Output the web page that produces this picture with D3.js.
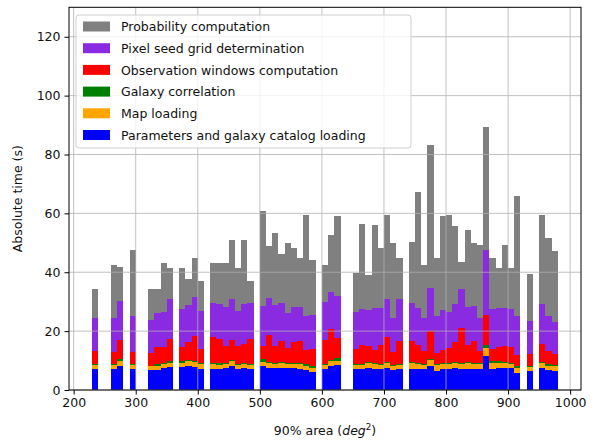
<!DOCTYPE html>
<html>
<head>
<meta charset="utf-8">
<script src="https://cdn.jsdelivr.net/npm/d3@7"></script>
<style>
  body { margin: 0; background: white; }
  svg text { font-family: "DejaVu Sans", sans-serif; }
</style>
</head>
<body>
<svg id="chart"></svg>
<script>
// left edge of each 10 deg^2 bin (empty bins left out)
const bins = [230, 260, 270, 290, 320, 330, 340, 350, 370, 380, 390, 400, 420, 430, 440, 450, 460, 470, 480,
  500, 510, 520, 530, 540, 550, 560, 570, 580, 600, 610, 620, 650, 660, 670, 680, 690, 700, 710, 720,
  740, 750, 760, 770, 780, 790, 800, 810, 820, 830, 840, 850, 860, 870, 880, 890, 900, 910, 930, 950, 960, 970];

const paramLoading = [7.1, 7.2, 8.3, 7.1, 6.7, 6.7, 7.4, 7.7, 7.7, 8.3, 7.9, 7.3, 7.2, 7.2, 7.6, 8.2, 7.3, 7.4, 7.1,
  8.0, 7.6, 7.4, 7.4, 7.4, 7.4, 7.3, 6.8, 6.2, 7.1, 8.0, 8.4, 7.1, 7.1, 7.4, 7.1, 7.1, 7.6, 6.8, 7.1,
  7.3, 7.2, 7.1, 8.3, 6.6, 7.1, 7.1, 7.4, 7.1, 7.3, 7.1, 7.1, 11.6, 7.3, 7.6, 7.4, 7.4, 5.9, 6.3, 7.4, 6.8, 6.3];
const mapLoading = [1.3, 1.2, 1.5, 1.4, 1.3, 1.4, 1.4, 1.4, 1.4, 1.4, 1.6, 1.6, 1.5, 1.3, 1.2, 1.5, 1.2, 1.4, 1.3,
  1.5, 1.5, 1.4, 1.7, 1.4, 1.4, 1.5, 1.4, 1.4, 1.4, 1.7, 1.4, 1.4, 1.4, 1.7, 1.7, 1.4, 1.5, 1.4, 1.4,
  1.8, 1.6, 1.3, 2.0, 1.8, 1.7, 1.8, 1.7, 1.7, 1.8, 1.7, 1.7, 2.6, 1.8, 1.7, 1.7, 1.4, 1.7, 1.4, 1.7, 1.5, 1.7];
const galaxyCorr = [0.5, 0.4, 0.7, 0.5, 0.3, 0.7, 0.4, 0.6, 0.6, 0.4, 0.5, 0.4, 0.5, 0.6, 0.3, 0.6, 0.4, 0.3, 0.4,
  0.9, 0.5, 0.3, 0.3, 0.3, 0.4, 0.4, 0.6, 0.5, 0.4, 0.6, 1.0, 0.4, 0.4, 0.4, 0.4, 0.4, 0.4, 0.4, 0.4,
  0.4, 0.3, 0.4, 0.3, 0.4, 0.3, 0.4, 0.4, 0.3, 0.4, 0.3, 0.3, 1.0, 0.6, 0.5, 0.5, 0.3, 0.4, 0.5, 0.4, 0.4, 0.4];
const obsWindows = [4.4, 4.2, 6.4, 4.0, 4.3, 5.9, 5.3, 7.7, 5.0, 6.1, 8.5, 4.7, 8.8, 8.2, 5.7, 6.6, 5.9, 6.6, 8.5,
  4.5, 9.2, 5.7, 7.1, 5.1, 7.1, 7.6, 4.9, 5.8, 8.0, 10.4, 6.7, 5.0, 6.5, 5.3, 4.5, 6.3, 8.5, 4.3, 7.6,
  7.0, 6.3, 4.3, 9.3, 3.7, 4.6, 4.9, 6.7, 12.0, 5.7, 7.4, 4.3, 10.4, 4.2, 4.8, 5.4, 5.5, 4.0, 4.1, 6.2, 4.4, 3.9];
const pixelSeed = [11.0, 11.4, 13.2, 12.0, 11.3, 11.6, 11.9, 13.4, 12.8, 12.6, 13.1, 12.8, 11.4, 12.0, 13.5, 14.1, 11.9, 13.4, 12.3,
  13.5, 12.5, 14.0, 12.9, 12.0, 12.0, 11.5, 11.6, 11.7, 13.0, 12.7, 14.6, 12.7, 12.0, 12.3, 14.0, 12.5, 12.8, 11.4, 14.3,
  12.9, 12.5, 11.4, 14.6, 12.6, 13.4, 12.2, 13.1, 13.1, 13.1, 12.0, 10.9, 21.9, 13.5, 13.3, 12.9, 12.8, 13.1, 11.3, 13.6, 12.0, 10.7];
const probability = [9.9, 18.2, 11.8, 22.6, 10.3, 8.1, 16.9, 10.8, 13.8, 9.0, 13.2, 10.2, 13.6, 14.0, 15.0, 20.1, 14.6, 22.0, 7.4,
  32.5, 17.5, 24.5, 16.8, 23.6, 19.9, 16.5, 34.3, 18.4, 12.5, 19.2, 26.9, 13.3, 29.0, 11.9, 28.4, 20.5, 28.5, 25.8, 13.9,
  21.0, 39.3, 17.9, 48.7, 19.9, 31.9, 33.1, 26.3, 9.4, 26.2, 21.6, 25.0, 42.0, 17.3, 13.4, 21.4, 14.2, 40.8, 15.9, 30.2, 26.4, 24.3];

// stacking order, bottom first
const seriesNames = ["Parameters and galaxy catalog loading", "Map loading", "Galaxy correlation",
  "Observation windows computation", "Pixel seed grid determination", "Probability computation"];
const seriesColors = ["blue", "orange", "green", "red", "blueviolet", "grey"];
const seriesValues = [paramLoading, mapLoading, galaxyCorr, obsWindows, pixelSeed, probability];

const binWidth = 10;
const xTicks = [200, 300, 400, 500, 600, 700, 800, 900, 1000];
const yTicks = [0, 20, 40, 60, 80, 100, 120];

const width = 602, height = 442;
const margin = {top: 7.3, right: 21, bottom: 52, left: 69};
const fs = 12.5;

const svg = d3.select("#chart")
  .attr("width", width)
  .attr("height", height);

const rows = bins.map((b, i) => {
  const r = {bin: b};
  seriesNames.forEach((n, k) => { r[n] = seriesValues[k][i]; });
  return r;
});

const stacked = d3.stack().keys(seriesNames)(rows);

const x = d3.scaleLinear()
  .domain([192.5, 1017.5])
  .range([margin.left, width - margin.right]);

const y = d3.scaleLinear()
  .domain([0, 130])
  .range([height - margin.bottom, margin.top]);

// bars
svg.append("g")
  .selectAll("g")
  .data(stacked)
  .join("g")
    .attr("fill", (d, i) => seriesColors[i])
  .selectAll("rect")
  .data(d => d)
  .join("rect")
    .attr("x", d => x(d.data.bin))
    .attr("width", d => x(d.data.bin + binWidth) - x(d.data.bin))
    .attr("y", d => y(d[1]))
    .attr("height", d => y(d[0]) - y(d[1]))
    .attr("shape-rendering", "crispEdges");

// grid on top of the bars
const grid = svg.append("g").attr("stroke", "#b0b0b0").attr("stroke-width", 0.9).attr("opacity", 0.85);
grid.selectAll("line.gx")
  .data(xTicks)
  .join("line")
    .attr("x1", d => x(d)).attr("x2", d => x(d))
    .attr("y1", margin.top).attr("y2", height - margin.bottom);
grid.selectAll("line.gy")
  .data(yTicks)
  .join("line")
    .attr("x1", margin.left).attr("x2", width - margin.right)
    .attr("y1", d => y(d)).attr("y2", d => y(d));

// axes
const xAxis = svg.append("g")
  .attr("transform", `translate(0,${height - margin.bottom})`)
  .call(d3.axisBottom(x).tickValues(xTicks).tickFormat(d3.format("d")).tickSize(4.5).tickPadding(4));
const yAxis = svg.append("g")
  .attr("transform", `translate(${margin.left},0)`)
  .call(d3.axisLeft(y).tickValues(yTicks).tickSize(4.5).tickPadding(4));

[xAxis, yAxis].forEach(a => {
  a.select(".domain").remove();
  a.selectAll("line").attr("stroke", "black").attr("stroke-width", 1);
  a.selectAll("text").attr("font-size", fs).attr("fill", "#111").attr("font-family", "DejaVu Sans");
});

// frame
svg.append("rect")
  .attr("x", margin.left).attr("y", margin.top)
  .attr("width", width - margin.left - margin.right)
  .attr("height", height - margin.top - margin.bottom)
  .attr("fill", "none").attr("stroke", "black").attr("stroke-width", 1);

// axis labels
const xl = svg.append("text")
  .attr("x", (margin.left + width - margin.right) / 2)
  .attr("y", 435)
  .attr("text-anchor", "middle")
  .attr("font-size", fs)
  .attr("fill", "#111");
xl.append("tspan").text("90% area (");
xl.append("tspan").attr("font-style", "italic").text("deg");
xl.append("tspan").attr("font-size", fs * 0.7).attr("dy", -5).text("2");
xl.append("tspan").attr("dy", 5).text(")");

svg.append("text")
  .attr("transform", `translate(22,${(margin.top + height - margin.bottom) / 2}) rotate(-90)`)
  .attr("text-anchor", "middle")
  .attr("font-size", fs)
  .attr("fill", "#111")
  .text("Absolute time (s)");

// legend, top to bottom is reversed stack order
const legendItems = seriesNames.map((n, i) => ({name: n, color: seriesColors[i]})).reverse();
const legend = svg.append("g").attr("transform", "translate(76,15)");
legend.append("rect")
  .attr("width", 335).attr("height", 133)
  .attr("rx", 3)
  .attr("fill", "white").attr("fill-opacity", 0.8)
  .attr("stroke", "#d0d0d0");
const li = legend.selectAll("g.item")
  .data(legendItems)
  .join("g")
    .attr("transform", (d, i) => `translate(0,${12 + i * 21.7})`);
li.append("rect")
  .attr("x", 7).attr("y", -5.5)
  .attr("width", 27).attr("height", 10)
  .attr("fill", d => d.color);
li.append("text")
  .attr("x", 45).attr("y", 0)
  .attr("dy", "0.35em")
  .attr("font-size", fs)
  .attr("fill", "#111")
  .text(d => d.name);
</script>
</body>
</html>
